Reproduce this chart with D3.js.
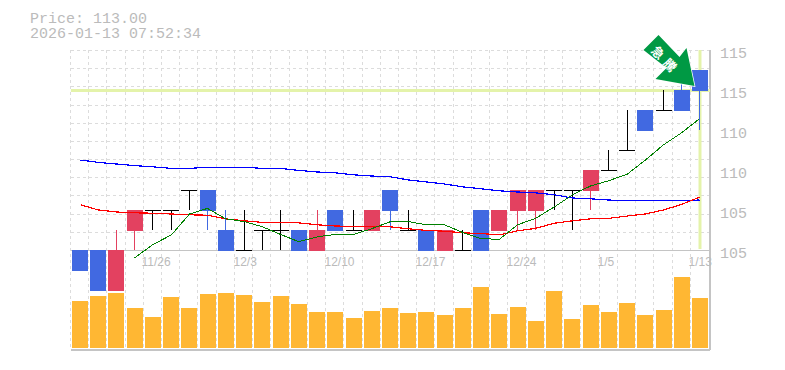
<!DOCTYPE html>
<html lang="ja">
<head>
<meta charset="UTF-8">
<title>Price chart</title>
<script src="https://d3js.org/d3.v7.min.js"></script>
<style>
    html, body { margin: 0; padding: 0; background: #fff; }
    svg { display: block; }
</style>
</head>
<body>
<div id="chart"></div>
<script>
const titleLines = ["Price: 113.00", "2026-01-13 07:52:34"];

const opens  = [108,108,107,108.5,109,109,109.5,109.5,108.5,108,108.5,108.5,108.5,108,109,108.5,108.5,109.5,108.5,108.5,108,108,109,108.5,109,109,109.5,109.5,109.5,110,110.5,111.5,111.5,112,112.5];
const closes = [107.5,107,108,109,109,109,109.5,109,108,108,108.5,108.5,108,108.5,108.5,108.5,109,109,108.5,108,108.5,108,108,109,109.5,109.5,109.5,109.5,110,110,110.5,111,111.5,111.5,112];
const highs  = [108,108,108.5,109,109,109,109.5,109.5,109,109,108.5,109,108.5,109,109,109,109,109.5,109,108.5,108.5,108.5,109,109,109.5,109.5,109.5,109.5,110,110.5,111.5,111.5,112,112.5,112.5];
const lows   = [107.5,107,107,108,108.5,108.5,109,108.5,108,108,108,108,108,108,108.5,108.5,108.5,108.5,108.5,108,108,108,108,108.5,108.5,108.5,109,108.5,109,110,110.5,111,111.5,111.5,111];
const volumes = [47,52,55,40,31,51,40,54,55,53,46,52,44,36,36,30,37,40,35,36,33,40,61,34,41,27,57,29,43,36,45,33,38,71,50];

const maLong  = [110.25,110.19,110.15,110.11,110.08,110.04,110.04,110.07,110.07,110.07,110.04,110.04,109.99,109.95,109.93,109.88,109.85,109.83,109.75,109.70,109.65,109.58,109.53,109.48,109.45,109.43,109.38,109.30,109.28,109.25,109.23,109.23,109.23,109.23,109.25];
const maMid   = [109.13,109.00,108.95,108.93,108.92,108.90,108.88,108.87,108.78,108.73,108.69,108.69,108.68,108.63,108.60,108.59,108.59,108.58,108.53,108.49,108.47,108.43,108.41,108.38,108.48,108.54,108.67,108.73,108.78,108.79,108.85,108.90,109.00,109.14,109.32];
const maShort = [null,null,null,107.80,108.13,108.38,108.90,109.04,108.78,108.71,108.58,108.39,108.21,108.33,108.39,108.39,108.53,108.71,108.71,108.63,108.63,108.44,108.28,108.27,108.63,108.79,109.08,109.38,109.60,109.73,109.90,110.25,110.63,110.93,111.28];

const priceTicks = [113,112,111,110,109,108];
const priceTickLabels = ["115","115","110","110","105","105"];
const dateLabels = ["11/26","12/3","12/10","12/17","12/24","1/5","1/13"];
const dateIndexes = [4,9,14,19,24,29,34];
const lastPrice = 112;
const gridRows = d3.range(12);

const width = 785, height = 370;
const plotLeft = 70.9, plotRight = 709.1, plotTop = 50, plotMid = 250, plotBottom = 348;
const bodyWidth = 16;

const colorUp = "#e34160", colorDown = "#4169e1", colorVol = "#ffb733";
const colorText = "#bbbbbb", colorGrid = "#dcdcdc", colorAxis = "#c4c4c4", colorMark = "#e4f3aa";

const svg = d3.select("#chart").append("svg")
    .attr("width", width)
    .attr("height", height);

const x = d3.scaleBand().domain(d3.range(opens.length)).range([plotLeft, plotRight]);
const y = d3.scaleLinear().domain([108, 113]).range([plotMid, plotTop]);
const v = d3.scaleLinear().domain([0, 98]).range([plotBottom, plotMid]);
const rowY = d3.scaleLinear().domain([0, 11]).range([plotTop, plotMid]);
const center = i => x(i) + x.bandwidth() / 2;
const cx = i => Math.floor(center(i)) + 0.5;
const barX = i => Math.round(center(i) - bodyWidth / 2);

// grid
const grid = svg.append("g").attr("stroke", colorGrid).attr("stroke-dasharray", "3,3").attr("shape-rendering", "crispEdges");
grid.selectAll("line.v")
    .data(d3.range(opens.length))
    .join("line")
    .attr("class", "v")
    .attr("x1", i => Math.floor(x(i) - 0.6) + 0.5)
    .attr("x2", i => Math.floor(x(i) - 0.6) + 0.5)
    .attr("y1", plotTop)
    .attr("y2", plotBottom + 2);
grid.selectAll("line.h")
    .data(gridRows)
    .join("line")
    .attr("class", "h")
    .attr("x1", plotLeft)
    .attr("x2", plotRight)
    .attr("y1", d => Math.round(rowY(d)) + 0.5)
    .attr("y2", d => Math.round(rowY(d)) + 0.5);

// axis lines
const axes = svg.append("g").attr("stroke", colorAxis).attr("stroke-width", 1.5).attr("shape-rendering", "crispEdges");
axes.append("line").attr("x1", plotLeft).attr("x2", plotRight + 1).attr("y1", plotMid + 0.5).attr("y2", plotMid + 0.5);
axes.append("line").attr("x1", plotLeft).attr("x2", plotRight + 1).attr("y1", plotBottom + 2).attr("y2", plotBottom + 2);
axes.append("line").attr("x1", plotRight + 1).attr("x2", plotRight + 1).attr("y1", plotTop).attr("y2", plotBottom + 2);

// last price markers
svg.append("line")
    .attr("x1", plotLeft).attr("x2", plotRight + 1)
    .attr("y1", y(lastPrice) + 0.5).attr("y2", y(lastPrice) + 0.5)
    .attr("stroke", colorMark).attr("stroke-width", 3);
svg.append("line")
    .attr("x1", cx(34) + 0.5).attr("x2", cx(34) + 0.5)
    .attr("y1", plotTop).attr("y2", plotMid - 1)
    .attr("stroke", colorMark).attr("stroke-width", 3);

// volume
svg.append("g").selectAll("rect")
    .data(volumes)
    .join("rect")
    .attr("x", (d, i) => barX(i))
    .attr("y", d => v(d))
    .attr("width", bodyWidth)
    .attr("height", d => plotBottom - v(d))
    .attr("fill", colorVol);

// candles
const candleColor = i => closes[i] > opens[i] ? colorUp : closes[i] < opens[i] ? colorDown : "#000";
const candles = svg.append("g").attr("shape-rendering", "crispEdges");
candles.selectAll("line.wick")
    .data(d3.range(opens.length))
    .join("line")
    .attr("class", "wick")
    .attr("x1", cx).attr("x2", cx)
    .attr("y1", i => y(highs[i]))
    .attr("y2", i => y(lows[i]))
    .attr("stroke", candleColor);
candles.selectAll("rect")
    .data(d3.range(opens.length).filter(i => opens[i] !== closes[i]))
    .join("rect")
    .attr("x", barX)
    .attr("y", i => y(Math.max(opens[i], closes[i])))
    .attr("width", bodyWidth)
    .attr("height", i => Math.abs(y(opens[i]) - y(closes[i])) + 1)
    .attr("fill", candleColor);
candles.selectAll("line.doji")
    .data(d3.range(opens.length).filter(i => opens[i] === closes[i]))
    .join("line")
    .attr("class", "doji")
    .attr("x1", barX)
    .attr("x2", i => barX(i) + bodyWidth)
    .attr("y1", i => y(opens[i]) + 0.5)
    .attr("y2", i => y(opens[i]) + 0.5)
    .attr("stroke", "#000");

// moving averages
const line = d3.line()
    .defined(d => d !== null)
    .x((d, i) => cx(i))
    .y(d => y(d));
[[maLong, "#0000ff"], [maMid, "#ff0000"], [maShort, "#008000"]].forEach(([values, color]) => {
    svg.append("path")
        .attr("d", line(values))
        .attr("fill", "none")
        .attr("stroke", color)
        .attr("stroke-width", color === "#008000" ? 1 : 1.2)
        .attr("shape-rendering", "crispEdges");
});

// text
const mono = "'Liberation Mono', monospace";
svg.append("g").selectAll("text")
    .data(titleLines)
    .join("text")
    .attr("x", 30)
    .attr("y", (d, i) => 23 + i * 15)
    .attr("font-family", mono)
    .attr("font-size", 15)
    .attr("fill", colorText)
    .text(d => d);
svg.append("g").selectAll("text")
    .data(priceTicks)
    .join("text")
    .attr("x", 720)
    .attr("y", d => y(d) + 8)
    .attr("font-family", mono)
    .attr("font-size", 15)
    .attr("fill", colorText)
    .text((d, i) => priceTickLabels[i]);
svg.append("g").selectAll("text")
    .data(dateLabels)
    .join("text")
    .attr("x", (d, i) => cx(dateIndexes[i]) - 11)
    .attr("y", 266)
    .attr("font-family", "'Liberation Sans', sans-serif")
    .attr("font-size", 12)
    .attr("fill", colorText)
    .text(d => d);

// arrow, drawn around the tip at the last candle
const arrow = svg.append("g")
    .attr("transform", `translate(${cx(34) - 5},${y(112) - 4})`);
arrow.append("path")
    .attr("d", "M-51,-36 L-36,-51 L-15,-29 L-8,-38 L0,0 L-39,-7 L-28,-18 Z")
    .attr("fill", "#009944")
    .attr("stroke", "#fff")
    .attr("stroke-width", 1.5)
    .attr("paint-order", "stroke");
arrow.selectAll("text")
    .data(["急", "騰"])
    .join("text")
    .attr("transform", (d, i) => `translate(${-36 + i * 12},${-34 + i * 12.5}) rotate(45)`)
    .attr("text-anchor", "middle")
    .attr("dominant-baseline", "central")
    .attr("font-family", "'Noto Sans CJK JP', sans-serif")
    .attr("font-weight", 700)
    .attr("font-size", 12.5)
    .attr("fill", "#fff")
    .text(d => d);
</script>
</body>
</html>
